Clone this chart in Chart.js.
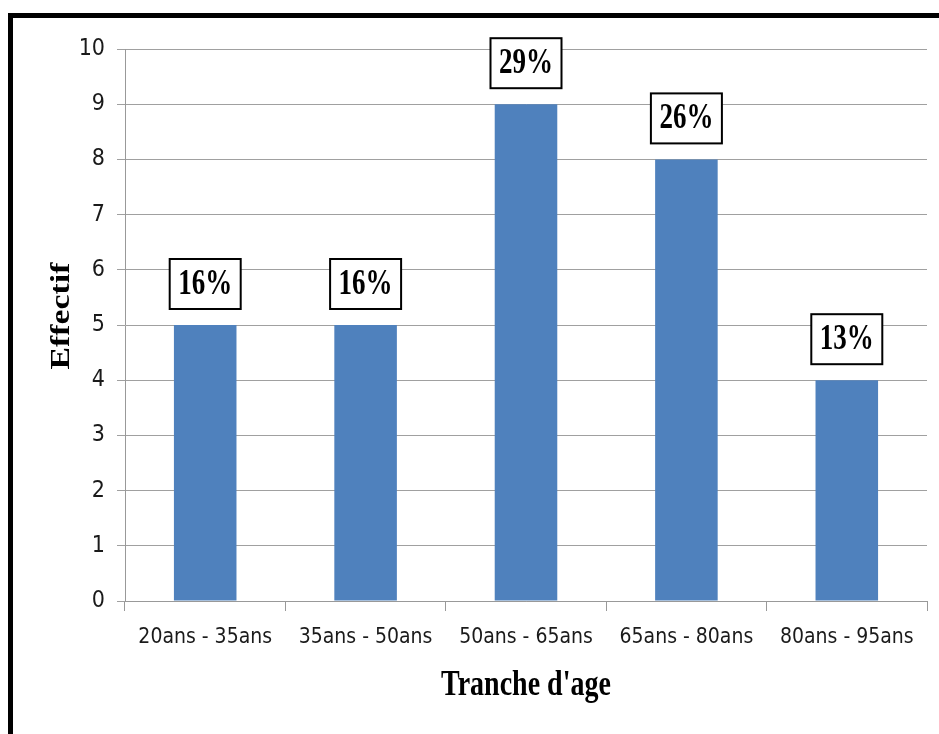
<!DOCTYPE html>
<html>
<head>
<meta charset="utf-8">
<script src="https://cdn.jsdelivr.net/npm/chart.js@4/dist/chart.umd.min.js"></script>
<style>
  html, body { margin: 0; padding: 0; background: #fff; }
  #wrap { width: 939px; height: 734px; position: relative; }
</style>
</head>
<body>
<div id="wrap"><canvas id="c" width="939" height="734"></canvas></div>
<script>
// Age groups and head counts
const categories = ['20ans - 35ans', '35ans - 50ans', '50ans - 65ans', '65ans - 80ans', '80ans - 95ans'];
const effectifs = [5, 5, 9, 8, 4];
const pourcentages = ['16%', '16%', '29%', '26%', '13%'];
const yTicks = [0, 1, 2, 3, 4, 5, 6, 7, 8, 9, 10];

const titreX = 'Tranche d\'age';
const titreY = 'Effectif';

const fontFamily = '"DejaVu Sans Condensed", "Liberation Sans", sans-serif';
const serifBold = '"Liberation Serif", "Times New Roman", serif';

// Draw text with a vertical stretch
function tallText(ctx, txt, x, y, size, sy) {
  ctx.save();
  ctx.translate(x, y);
  ctx.scale(1, sy);
  ctx.font = 'bold ' + size + 'px ' + serifBold;
  ctx.fillStyle = '#000';
  ctx.textAlign = 'center';
  ctx.textBaseline = 'middle';
  ctx.fillText(txt, 0, 0);
  ctx.restore();
}

const decor = {
  id: 'decor',
  beforeDraw(chart) {
    const ctx = chart.ctx;
    ctx.save();
    ctx.fillStyle = '#fff';
    ctx.fillRect(0, 0, chart.width, chart.height);
    // outer frame (left and top edges)
    ctx.fillStyle = '#000';
    ctx.fillRect(8, 13, 5, chart.height - 13);
    ctx.fillRect(8, 13, chart.width - 8, 5);
    ctx.restore();
  },
  afterDraw(chart) {
    const ctx = chart.ctx;
    const area = chart.chartArea;
    // axis titles
    tallText(ctx, titreX, (area.left + area.right) / 2, 686, 28, 1.25);
    ctx.save();
    ctx.translate(62, 316);
    ctx.rotate(-Math.PI / 2);
    ctx.scale(1.25, 1);
    ctx.font = 'bold 27px ' + serifBold;
    ctx.fillStyle = '#000';
    ctx.textAlign = 'center';
    ctx.textBaseline = 'middle';
    ctx.fillText(titreY, 0, 0);
    ctx.restore();
  },
  afterDatasetsDraw(chart) {
    const ctx = chart.ctx;
    const meta = chart.getDatasetMeta(0);
    meta.data.forEach((bar, i) => {
      const w = 71, h = 50;
      const bx = bar.x - w / 2;
      const by = bar.y - 16 - h;
      ctx.save();
      ctx.fillStyle = '#fff';
      ctx.fillRect(bx, by, w, h);
      ctx.strokeStyle = '#000';
      ctx.lineWidth = 2;
      ctx.strokeRect(bx, by, w, h);
      ctx.restore();
      tallText(ctx, pourcentages[i], bar.x, by + h / 2 + 1, 27, 1.3);
    });
  }
};

new Chart(document.getElementById('c'), {
  type: 'bar',
  data: {
    labels: categories,
    datasets: [{
      data: effectifs,
      backgroundColor: '#4F81BD',
      borderWidth: 0,
      categoryPercentage: 1,
      barPercentage: 0.39
    }]
  },
  options: {
    responsive: false,
    animation: false,
    layout: { padding: { top: 49, right: 12, left: 0, bottom: 0 } },
    plugins: { legend: { display: false }, tooltip: { enabled: false } },
    scales: {
      x: {
        offset: true,
        grid: { offset: true, drawOnChartArea: false, color: '#999', tickLength: 10 },
        border: { color: '#999' },
        ticks: { color: '#1a1a1a', font: { family: fontFamily, size: 21 }, padding: 14, maxRotation: 0, autoSkip: false },
        afterFit(scale) { scale.height = 133; }
      },
      y: {
        min: 0,
        max: 10,
        afterBuildTicks(scale) { scale.ticks = yTicks.map(v => ({ value: v })); },
        grid: { color: '#a0a0a0', tickLength: 8 },
        border: { color: '#999' },
        ticks: { color: '#1a1a1a', font: { family: fontFamily, size: 23 }, padding: 12, autoSkip: false },
        afterFit(scale) { scale.width = 125; }
      }
    }
  },
  plugins: [decor]
});
</script>
</body>
</html>
